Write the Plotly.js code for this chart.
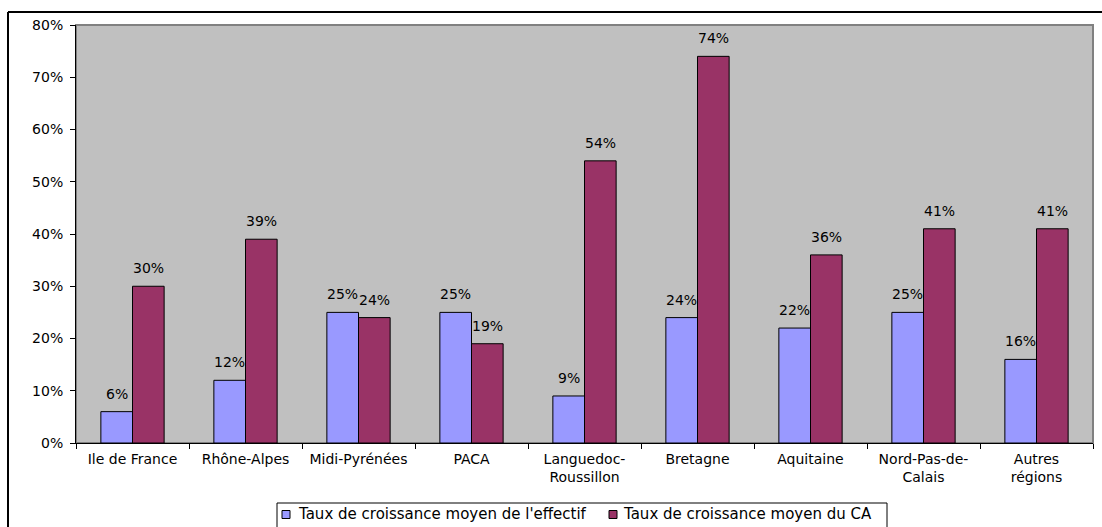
<!DOCTYPE html>
<html>
<head>
<meta charset="utf-8">
<script src="https://cdn.plot.ly/plotly-3.0.1.min.js"></script>
<style>
html,body{margin:0;padding:0;background:#fff;}
#chart{width:1102px;height:527px;}
</style>
</head>
<body>
<div id="chart"></div>
<script>
const categories = ["Ile de France","Rhône-Alpes","Midi-Pyrénées","PACA","Languedoc-<br>Roussillon","Bretagne","Aquitaine","Nord-Pas-de-<br>Calais","Autres<br>régions"];
const effectif = [0.06,0.12,0.25,0.25,0.09,0.24,0.22,0.25,0.16];
const ca = [0.30,0.39,0.24,0.19,0.54,0.74,0.36,0.41,0.41];
const seriesNames = ["Taux de croissance moyen de l'effectif","Taux de croissance moyen du CA"];
const seriesColors = ["#9999FF","#993366"];
const yTickVals = [0,0.1,0.2,0.3,0.4,0.5,0.6,0.7,0.8];

const font = {family: "DejaVu Sans, sans-serif", size: 14, color: "#000"};

const L = 76, R = 1093, T = 25, B = 443;
const W = R - L, H = B - T;
function px(x){ return (x - L) / W; }
function py(y){ return (B - y) / H; }

const bargap = 0.44;
const catW = W / categories.length;
const barW = catW * (1 - bargap) / 2;

const traces = [
  {type:"bar", x:categories, y:effectif, name:seriesNames[0],
   marker:{color:seriesColors[0], line:{color:"#000", width:1}}, hoverinfo:"none"},
  {type:"bar", x:categories, y:ca, name:seriesNames[1],
   marker:{color:seriesColors[1], line:{color:"#000", width:1}}, hoverinfo:"none"}
];

const annotations = [];
[effectif, ca].forEach((vals, s) => {
  vals.forEach((v, i) => {
    annotations.push({x:categories[i], y:v, xref:"x", yref:"y",
      text:Math.round(v*100) + "%", showarrow:false,
      xanchor:"center", yanchor:"bottom",
      xshift:(s === 0 ? -1 : 1) * barW / 2, yshift:8,
      font:font});
  });
});

// legend (drawn as box + swatches + labels)
const legendFont = {family:font.family, size:15, color:"#000"};
const legendItems = [{sx:282, tx:296}, {sx:609, tx:621}];
const shapes = [
  {type:"rect", xref:"paper", yref:"paper", x0:0, x1:1, y0:0, y1:1,
   line:{color:"#808080", width:2}, fillcolor:"rgba(0,0,0,0)", layer:"below"},
  {type:"line", xref:"paper", yref:"paper", x0:px(8), x1:px(8), y0:py(12), y1:py(540),
   line:{color:"#000", width:2}},
  {type:"line", xref:"paper", yref:"paper", x0:px(8), x1:px(1110), y0:py(12), y1:py(12),
   line:{color:"#000", width:2}},
  {type:"rect", xref:"paper", yref:"paper", x0:px(277), x1:px(887), y0:py(545), y1:py(503),
   line:{color:"#000", width:1}, fillcolor:"#fff"}
];
legendItems.forEach((it, s) => {
  shapes.push({type:"rect", xref:"paper", yref:"paper",
    x0:px(it.sx), x1:px(it.sx + 8), y0:py(518.5), y1:py(510.5),
    line:{color:"#000", width:1}, fillcolor:seriesColors[s]});
  annotations.push({xref:"paper", yref:"paper", x:px(it.tx), y:py(514),
    xanchor:"left", yanchor:"middle", showarrow:false,
    text:seriesNames[s], font:legendFont});
});

const layout = {
  width:1102, height:527,
  margin:{l:L, r:1102-R, t:T, b:527-B, pad:0},
  paper_bgcolor:"#fff", plot_bgcolor:"#C0C0C0",
  font:font,
  barmode:"group", bargap:bargap, bargroupgap:0,
  showlegend:false,
  xaxis:{type:"category", showline:true, linecolor:"#000", linewidth:1,
    ticks:"outside", tickson:"boundaries", ticklen:5, tickcolor:"#000",
    ticklabelstandoff:3,
    showgrid:false, tickfont:font, fixedrange:true},
  yaxis:{range:[0,0.8], tickvals:yTickVals, tickformat:".0%",
    showline:true, linecolor:"#000", linewidth:1,
    ticks:"outside", ticklen:5, tickcolor:"#000",
    ticklabelstandoff:4,
    showgrid:false, zeroline:false, tickfont:font, fixedrange:true},
  annotations:annotations,
  shapes:shapes
};

Plotly.newPlot("chart", traces, layout, {displayModeBar:false, staticPlot:true});
</script>
</body>
</html>
